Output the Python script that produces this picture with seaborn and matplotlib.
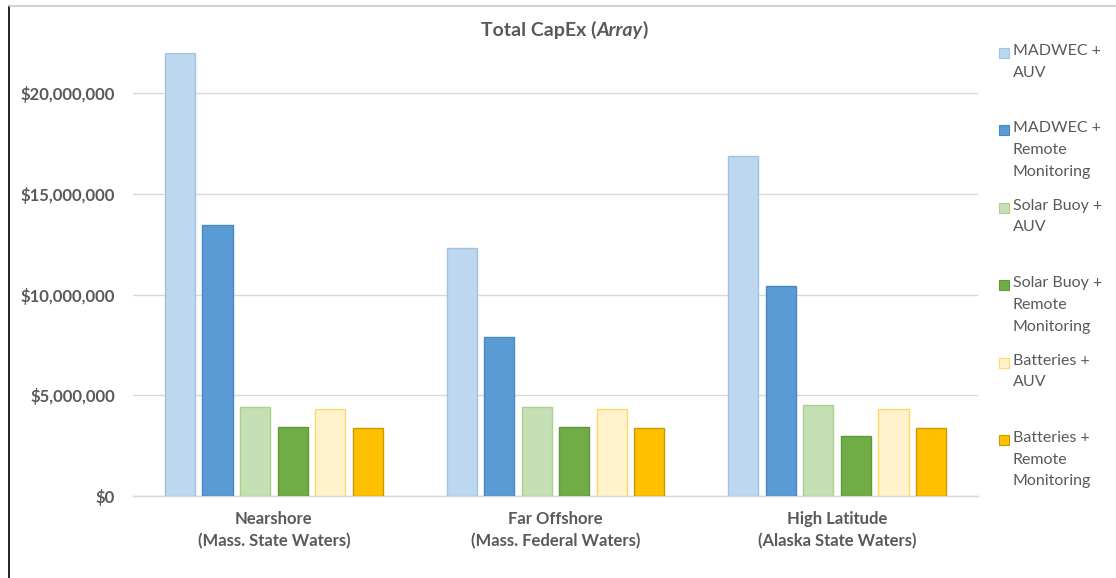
import matplotlib
matplotlib.use("Agg")
import matplotlib.pyplot as plt
from matplotlib.lines import Line2D
from matplotlib.patches import Rectangle
from matplotlib.ticker import FuncFormatter
import seaborn as sns
import pandas as pd

# ------------------------------------------------------------
# DATA
# ------------------------------------------------------------
sites = ["Nearshore\n(Mass. State Waters)",
         "Far Offshore\n(Mass. Federal Waters)",
         "High Latitude\n(Alaska State Waters)"]
systems = ["MADWEC +\nAUV",
           "MADWEC +\nRemote\nMonitoring",
           "Solar Buoy +\nAUV",
           "Solar Buoy +\nRemote\nMonitoring",
           "Batteries +\nAUV",
           "Batteries +\nRemote\nMonitoring"]
madwec_auv = [22000000, 12300000, 16900000]
madwec_remote = [13450000, 7900000, 10450000]
solar_auv = [4400000, 4400000, 4500000]
solar_remote = [3450000, 3450000, 3000000]
batt_auv = [4300000, 4300000, 4300000]
batt_remote = [3400000, 3400000, 3400000]
yticks = [0, 5000000, 10000000, 15000000, 20000000]

fills = ["#BDD7EE", "#5B9BD5", "#C5E0B4", "#70AD47", "#FFF2CC", "#FFC000"]
edges = ["#9DC3E6", "#4A86C0", "#A9D18E", "#5E9A3A", "#FFD966", "#C99A00"]
grey = "#595959"

series = [madwec_auv, madwec_remote, solar_auv, solar_remote, batt_auv, batt_remote]
rows = []
for name, vals in zip(systems, series):
    for site, v in zip(sites, vals):
        rows.append({"site": site, "system": name, "capex": v})
df = pd.DataFrame(rows)

# ------------------------------------------------------------
# PLOT
# ------------------------------------------------------------
sns.set_style("white")
plt.rcParams["font.family"] = ["Lato", "DejaVu Sans"]

fig = plt.figure(figsize=(11.16, 5.78), dpi=100)
ax = fig.add_axes([133 / 1116, 82 / 578, (978 - 133) / 1116, (496 - 53) / 578])

sns.barplot(data=df, x="site", y="capex", hue="system", order=sites,
            hue_order=systems, palette=fills, saturation=1, width=0.8, gap=0.2,
            legend=False, ax=ax, zorder=3)

for cont, ec in zip(ax.containers, edges):
    for bar in cont:
        bar.set_edgecolor(ec)
        bar.set_linewidth(1.0)

ax.set_ylim(0, 22000000)
ax.set_yticks(yticks)
ax.yaxis.set_major_formatter(FuncFormatter(lambda v, p: f"${v:,.0f}"))
ax.grid(axis="y", color="#D9D9D9", linewidth=1.0, zorder=0)
ax.set_axisbelow(True)
for s in ["top", "right", "left"]:
    ax.spines[s].set_visible(False)
ax.spines["bottom"].set_color("#D9D9D9")
ax.spines["bottom"].set_linewidth(1.0)
ax.set_xlabel("")
ax.set_ylabel("")
ax.tick_params(axis="both", length=0, labelsize=12, labelcolor=grey)
ax.tick_params(axis="y", pad=13)
ax.tick_params(axis="x", pad=11)
for lbl in ax.get_yticklabels() + ax.get_xticklabels():
    lbl.set_fontweight("bold")
    lbl.set_linespacing(1.45)

# title with italic part
t1 = fig.text(481 / 1116, 1 - 39 / 578, "Total CapEx (", fontsize=14,
              fontweight="bold", color=grey, va="bottom")
t2 = ax.annotate("Array", xy=(1, 0), xycoords=t1, va="bottom", fontsize=14,
                 fontweight="bold", style="italic", color=grey)
t3 = ax.annotate(")", xy=(1, 0), xycoords=t2, va="bottom", fontsize=14,
                 fontweight="bold", color=grey)

# legend, one entry per system, Excel-like spacing
for i, (name, fc, ec) in enumerate(zip(systems, fills, edges)):
    ytop = 47 + i * 77.4
    fig.add_artist(Rectangle((999 / 1116, 1 - (ytop + 11) / 578), 10 / 1116, 10 / 578,
                             transform=fig.transFigure, facecolor=fc,
                             edgecolor=ec, linewidth=0.8))
    fig.text(1013 / 1116, 1 - (ytop - 3) / 578, name, fontsize=11.5,
             color=grey, va="top", ha="left", linespacing=1.7)

# frame of the screenshot
fig.add_artist(Line2D([9 / 1116, 9 / 1116], [0, 1 - 6 / 578], color="black",
                      linewidth=1.2, transform=fig.transFigure))
fig.add_artist(Line2D([9 / 1116, 1], [1 - 6 / 578, 1 - 6 / 578], color="#C8C8C8",
                      linewidth=1.2, transform=fig.transFigure))

fig.savefig("out.png", dpi=100)
